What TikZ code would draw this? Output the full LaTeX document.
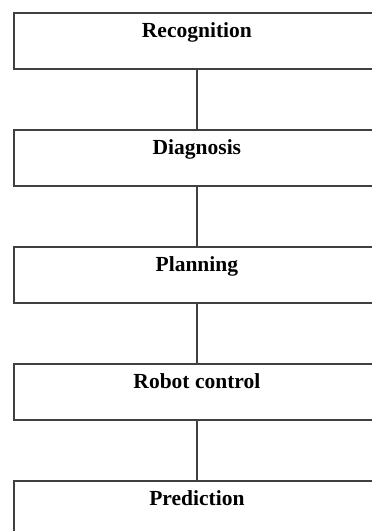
\documentclass[tikz,border=0pt]{standalone}
\usepackage{fontspec}
\setmainfont{Liberation Serif}
\usetikzlibrary{positioning}
\begin{document}
\begin{tikzpicture}[node distance=117pt,
	stage/.style={draw=black!75, line width=1.8pt, rectangle, minimum width=366pt, inner xsep=0pt, inner ysep=0pt, text height=25pt, text depth=31pt, font=\fontsize{21.5}{26}\selectfont\bfseries},
	link/.style={draw=black!75, line width=1.6pt}]
		\useasboundingbox (0,0) rectangle (372pt,-531pt);
		\node[stage, anchor=north west] (recog) at (13pt,-12pt) {Recognition};
		\node[stage] (diag) [below of=recog] {Diagnosis};
		\node[stage] (plan) [below of=diag] {Planning};
		\node[stage] (robot) [below of=plan] {Robot control};
		\node[stage] (pred) [below of=robot] {Prediction};
		\draw[link] (recog) -- (diag);
		\draw[link] (diag) -- (plan);
		\draw[link] (plan) -- (robot);
		\draw[link] (robot) -- (pred);
	\end{tikzpicture}
\end{document}
